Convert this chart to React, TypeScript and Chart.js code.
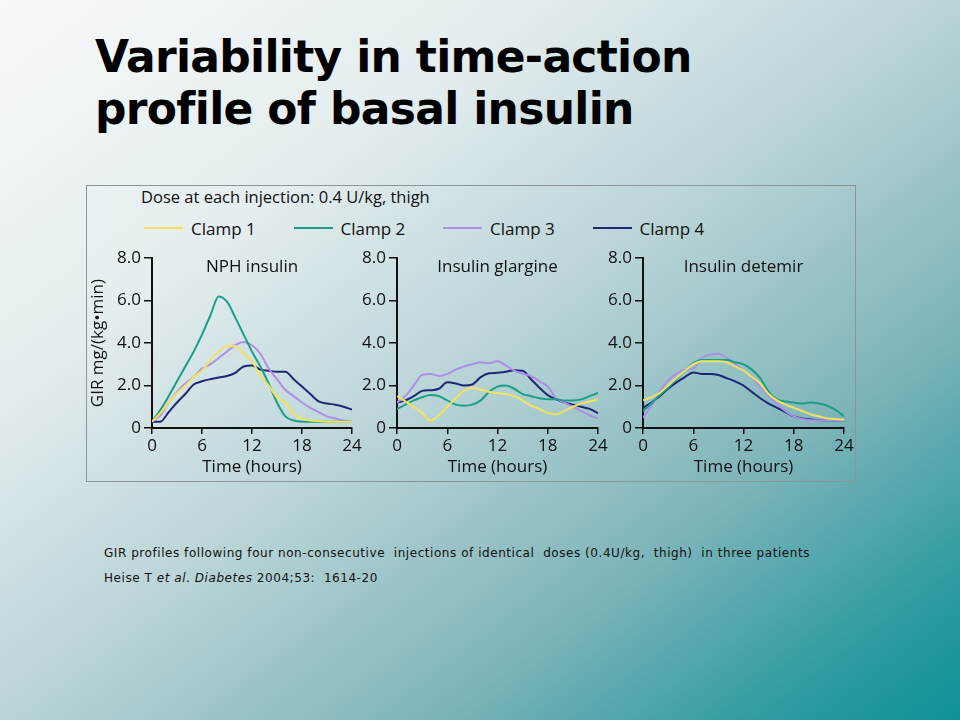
import React, { useEffect, useRef } from 'react';
import { Chart, registerables } from 'chart.js';

Chart.register(...registerables);

// ---------- data ----------
const hours = [0, 1, 2, 3, 4, 5, 6, 7, 8, 9, 10, 11, 12, 13, 14, 15, 16, 17, 18, 19, 20, 21, 22, 23, 24];
const clampLabels = ['Clamp 1', 'Clamp 2', 'Clamp 3', 'Clamp 4'];
const clampColors = ['#f2e35e', '#1a9f86', '#ad8ee8', '#1b2777'];
const panelTitles = ['NPH insulin', 'Insulin glargine', 'Insulin detemir'];
const xTicks = [0, 6, 12, 18, 24];
const yTicks = [0, 2, 4, 6, 8];
const yTickLabels = ['0', '2.0', '4.0', '6.0', '8.0'];
const xAxisTitle = 'Time (hours)';
const yAxisTitle = 'GIR mg/(kg\u2022min)';
const doseText = 'Dose at each injection: 0.4 U/kg, thigh';

// NPH insulin
const nphClamp1 = [0.3, 0.7, 1.2, 1.65, 2.0, 2.4, 2.7, 3.2, 3.6, 3.85, 3.85, 3.5, 3.15, 2.45, 2.0, 1.45, 1.2, 0.65, 0.45, 0.35, 0.32, 0.3, 0.3, 0.3, 0.3];
const nphClamp2 = [0.3, 0.85, 1.5, 2.2, 2.9, 3.6, 4.4, 5.3, 6.2, 5.95, 5.2, 4.4, 3.6, 2.9, 2.1, 1.2, 0.55, 0.35, 0.3, 0.3, 0.3, 0.3, 0.3, 0.3, 0.3];
const nphClamp3 = [0.3, 0.6, 1.2, 1.7, 2.1, 2.4, 2.8, 3.0, 3.3, 3.6, 3.9, 4.05, 3.9, 3.5, 2.8, 2.3, 1.8, 1.5, 1.2, 0.95, 0.75, 0.55, 0.45, 0.35, 0.3];
const nphClamp4 = [0.3, 0.3, 0.75, 1.2, 1.6, 2.05, 2.2, 2.3, 2.38, 2.45, 2.6, 2.9, 2.95, 2.75, 2.7, 2.65, 2.65, 2.3, 1.95, 1.6, 1.25, 1.15, 1.1, 1.0, 0.87];

// Insulin glargine
const glaClamp1 = [1.5, 1.25, 1.0, 0.7, 0.35, 0.6, 1.0, 1.4, 1.75, 1.9, 1.8, 1.7, 1.65, 1.6, 1.5, 1.3, 1.05, 0.9, 0.7, 0.65, 0.8, 1.0, 1.15, 1.25, 1.35];
const glaClamp2 = [0.9, 1.1, 1.3, 1.45, 1.55, 1.5, 1.3, 1.1, 1.05, 1.1, 1.3, 1.7, 1.95, 2.0, 1.85, 1.6, 1.5, 1.4, 1.35, 1.35, 1.3, 1.3, 1.35, 1.5, 1.65];
const glaClamp3 = [1.2, 1.5, 2.0, 2.5, 2.55, 2.45, 2.55, 2.75, 2.9, 3.0, 3.1, 3.05, 3.15, 2.95, 2.7, 2.55, 2.45, 2.2, 1.95, 1.4, 1.2, 1.0, 0.8, 0.6, 0.45];
const glaClamp4 = [1.2, 1.3, 1.5, 1.75, 1.78, 1.85, 2.15, 2.1, 2.0, 2.05, 2.4, 2.58, 2.6, 2.65, 2.72, 2.7, 2.3, 1.9, 1.55, 1.35, 1.2, 1.1, 1.0, 0.9, 0.7];

// Insulin detemir
const detClamp1 = [1.3, 1.45, 1.65, 2.0, 2.35, 2.7, 3.0, 3.15, 3.15, 3.15, 3.1, 2.9, 2.7, 2.4, 2.1, 1.6, 1.3, 1.1, 0.95, 0.8, 0.65, 0.55, 0.45, 0.42, 0.4];
const detClamp2 = [0.8, 1.15, 1.55, 1.9, 2.3, 2.7, 3.05, 3.2, 3.2, 3.2, 3.2, 3.1, 3.0, 2.75, 2.35, 1.7, 1.35, 1.25, 1.2, 1.15, 1.2, 1.15, 1.05, 0.85, 0.55];
const detClamp3 = [0.48, 1.05, 1.7, 2.25, 2.55, 2.75, 2.8, 3.3, 3.45, 3.5, 3.3, 3.0, 2.7, 2.4, 1.95, 1.5, 1.15, 0.8, 0.55, 0.42, 0.37, 0.37, 0.37, 0.37, 0.37];
const detClamp4 = [0.95, 1.2, 1.5, 1.85, 2.15, 2.4, 2.62, 2.55, 2.55, 2.5, 2.35, 2.2, 2.0, 1.7, 1.4, 1.15, 0.95, 0.75, 0.55, 0.45, 0.4, 0.38, 0.37, 0.37, 0.37];

const panelSeries = [
  [nphClamp1, nphClamp2, nphClamp3, nphClamp4],
  [glaClamp1, glaClamp2, glaClamp3, glaClamp4],
  [detClamp1, detClamp2, detClamp3, detClamp4],
];

// ---------- rendering ----------
const FONT = '"Open Sans", "Noto Sans", sans-serif';
const INK = '#111111';

const panelTitlePlugin = {
  id: 'panelTitle',
  afterDraw(chart: any, _args: any, opts: any) {
    const { ctx, chartArea } = chart;
    ctx.save();
    ctx.font = `17px ${FONT}`;
    ctx.fillStyle = INK;
    ctx.textAlign = 'center';
    ctx.textBaseline = 'middle';
    ctx.fillText(opts.text, (chartArea.left + chartArea.right) / 2, chartArea.top + 9);
    ctx.restore();
  },
};

type PanelProps = { index: number; left: number; width: number; yAxisWidth: number; showYTitle: boolean };

function Panel({ index, left, width, yAxisWidth, showYTitle }: PanelProps) {
  const ref = useRef<HTMLCanvasElement>(null);
  useEffect(() => {
    if (!ref.current) return;
    const series = panelSeries[index];
    const chart = new Chart(ref.current, {
      type: 'line',
      data: {
        datasets: series.map((vals, i) => ({
          label: clampLabels[i],
          data: hours.map((h, j) => ({ x: h, y: vals[j] })),
          borderColor: clampColors[i],
          backgroundColor: clampColors[i],
          borderWidth: 2,
          pointRadius: 0,
          fill: false,
          cubicInterpolationMode: 'monotone' as const,
        })),
      },
      options: {
        animation: false,
        responsive: false,
        maintainAspectRatio: false,
        layout: { padding: { top: 13, right: 12, bottom: 0, left: 0 } },
        plugins: {
          legend: { display: false },
          tooltip: { enabled: false },
          panelTitle: { text: panelTitles[index] },
        } as any,
        scales: {
          x: {
            type: 'linear',
            min: 0,
            max: 24,
            afterBuildTicks: (s: any) => {
              s.ticks = xTicks.map((v) => ({ value: v }));
            },
            afterFit: (s: any) => {
              s.height = 52;
            },
            grid: { drawOnChartArea: false, drawTicks: true, tickLength: 6, color: INK, lineWidth: 1.5 },
            border: { display: true, color: INK, width: 2 },
            ticks: { color: INK, padding: 2, font: { family: FONT, size: 17 }, maxRotation: 0, autoSkip: false },
            title: { display: true, text: xAxisTitle, color: INK, font: { family: FONT, size: 17 }, padding: { top: 0, bottom: 3 } },
          },
          y: {
            type: 'linear',
            min: 0,
            max: 8,
            afterBuildTicks: (s: any) => {
              s.ticks = yTicks.map((v) => ({ value: v }));
            },
            afterFit: (s: any) => {
              s.width = yAxisWidth;
            },
            grid: { drawOnChartArea: false, drawTicks: true, tickLength: 8, color: INK, lineWidth: 1.5 },
            border: { display: true, color: INK, width: 2 },
            ticks: {
              color: INK,
              padding: 3,
              font: { family: FONT, size: 17 },
              callback: (v: any) => yTickLabels[yTicks.indexOf(Number(v))],
            },
            title: {
              display: showYTitle,
              text: yAxisTitle,
              color: INK,
              font: { family: FONT, size: 17 },
              padding: { top: 2, bottom: 0 },
            },
          },
        },
      },
      plugins: [panelTitlePlugin],
    } as any);
    return () => chart.destroy();
  }, [index, yAxisWidth, showYTitle]);
  return (
    <canvas
      ref={ref}
      width={width}
      height={235}
      style={{ position: 'absolute', left, top: 245, width, height: 235 }}
    />
  );
}

const captionStyle: React.CSSProperties = {
  position: 'absolute',
  left: 104,
  fontFamily: '"DejaVu Sans", sans-serif',
  fontSize: 12,
  letterSpacing: '0.55px',
  lineHeight: '16px',
  color: '#111',
  whiteSpace: 'pre',
};

export default function App() {
  return (
    <div
      style={{
        position: 'absolute',
        left: 0,
        top: 0,
        width: 960,
        height: 720,
        overflow: 'hidden',
        background:
          'linear-gradient(to bottom right, #f7f9fa 0%, #e4edef 28%, #b9d4d7 50%, #7fb5ba 72%, #2d9ba1 90%, #0f9198 100%)',
      }}
    >
      <div
        style={{
          position: 'absolute',
          left: 95,
          top: 31,
          fontFamily: '"DejaVu Sans", sans-serif',
          fontWeight: 'bold',
          fontSize: 44,
          lineHeight: '52px',
          letterSpacing: '-0.7px',
          color: '#000',
          whiteSpace: 'nowrap',
        }}
      >
        Variability in time-action
        <br />
        profile of basal insulin
      </div>

      <div
        style={{
          position: 'absolute',
          left: 86,
          top: 185,
          width: 768,
          height: 295,
          border: '1px solid #8c9698',
        }}
      />

      <div
        style={{
          position: 'absolute',
          left: 141,
          top: 185,
          fontFamily: FONT,
          fontSize: 16.5,
          lineHeight: '24px',
          color: INK,
          whiteSpace: 'nowrap',
        }}
      >
        {doseText}
      </div>

      <div style={{ position: 'absolute', left: 144, top: 216, height: 24, display: 'flex' }}>
        {clampLabels.map((lab, i) => (
          <div key={lab} style={{ width: 149.5, display: 'flex', alignItems: 'center' }}>
            <div style={{ width: 39, height: 2.5, background: clampColors[i], marginRight: 8 }} />
            <span style={{ fontFamily: FONT, fontSize: 17, color: INK, whiteSpace: 'nowrap' }}>{lab}</span>
          </div>
        ))}
      </div>

      <Panel index={0} left={86} width={278} yAxisWidth={66} showYTitle={true} />
      <Panel index={1} left={356} width={254} yAxisWidth={41} showYTitle={false} />
      <Panel index={2} left={602} width={254} yAxisWidth={41} showYTitle={false} />

      <div style={{ ...captionStyle, top: 545 }}>
        {'GIR profiles following four non-consecutive  injections of identical  doses (0.4U/kg,  thigh)  in three patients'}
      </div>
      <div style={{ ...captionStyle, top: 570 }}>
        Heise T <i>et al</i>. <i>Diabetes</i> {'2004;53:  1614-20'}
      </div>
    </div>
  );
}
